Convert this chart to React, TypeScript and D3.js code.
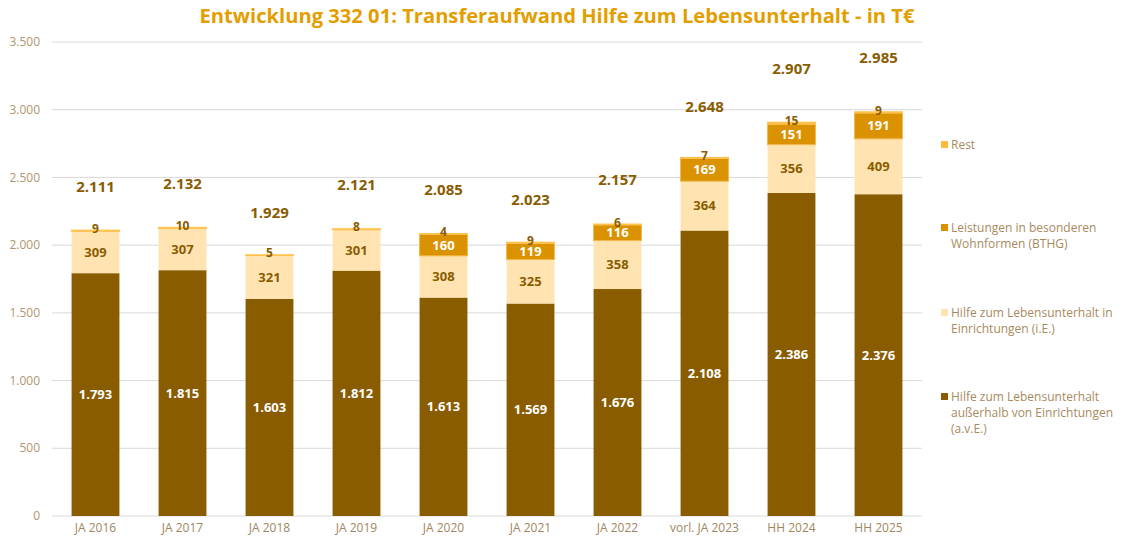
import React from "react";
import * as d3 from "d3";

const categories = ["JA 2016", "JA 2017", "JA 2018", "JA 2019", "JA 2020", "JA 2021", "JA 2022", "vorl. JA 2023", "HH 2024", "HH 2025"];
const aveValues = [1793, 1815, 1603, 1812, 1613, 1569, 1676, 2108, 2386, 2376];
const ieValues = [309, 307, 321, 301, 308, 325, 358, 364, 356, 409];
const bthgValues = [0, 0, 0, 0, 160, 119, 116, 169, 151, 191];
const restValues = [9, 10, 5, 8, 4, 9, 6, 7, 15, 9];
const totals = [2111, 2132, 1929, 2121, 2085, 2023, 2157, 2648, 2907, 2985];
const yTicks = [0, 500, 1000, 1500, 2000, 2500, 3000, 3500];

const W = 1126, H = 537;
const M = { left: 52, right: 922, top: 42, bottom: 516 };
const COLORS = ["#8A5C00", "#FFE4B2", "#DB9200", "#FFBA3C"];
const LABEL_COLORS = ["#FFFFFF", "#8A5C00", "#FFFFFF", "#8A5C00"];
const FONT = "'Open Sans', 'DejaVu Sans', sans-serif";
const fmt = (v: number) => d3.format(",")(v).replace(/,/g, ".");

export default function App() {
  const x = d3.scaleBand<string>().domain(categories).range([M.left, M.right]).paddingInner(0.45).paddingOuter(0.225);
  const y = d3.scaleLinear().domain([0, 3500]).range([M.bottom, M.top]);

  const rows = categories.map((c, i) => ({ cat: c, ave: aveValues[i], ie: ieValues[i], bthg: bthgValues[i], rest: restValues[i] }));
  const keys = ["ave", "ie", "bthg", "rest"];
  const stack = d3.stack<any>().keys(keys)(rows);

  const legendItems = [
    { idx: 3, lines: ["Rest"], y: 145 },
    { idx: 2, lines: ["Leistungen in besonderen", "Wohnformen (BTHG)"], y: 228 },
    { idx: 1, lines: ["Hilfe zum Lebensunterhalt in", "Einrichtungen (i.E.)"], y: 313 },
    { idx: 0, lines: ["Hilfe zum Lebensunterhalt", "außerhalb von Einrichtungen", "(a.v.E.)"], y: 397 },
  ];

  return (
    <svg width={W} height={H} style={{ position: "absolute", left: 0, top: 0, background: "#fff" }} fontFamily={FONT}>
      <text x={557} y={23} textAnchor="middle" fontSize={19} fontWeight={700} fill="#E39E00" textLength={715} lengthAdjust="spacingAndGlyphs">
        Entwicklung 332 01: Transferaufwand Hilfe zum Lebensunterhalt - in T€
      </text>
      {yTicks.map((t) => (
        <g key={t}>
          <line x1={M.left} x2={M.right} y1={y(t)} y2={y(t)} stroke="#D9D9D9" strokeWidth={1} />
          <text x={40} y={y(t)} dy="0.35em" textAnchor="end" fontSize={12} fill="#B0966E">{fmt(t)}</text>
        </g>
      ))}
      {stack.map((layer, si) => (
        <g key={si}>
          {layer.map((d, i) => {
            const v = d[1] - d[0];
            if (v <= 0) return null;
            return (
              <rect key={i} x={x(categories[i])} width={x.bandwidth()} y={y(d[1])} height={y(d[0]) - y(d[1])} fill={COLORS[si]}
                stroke={si === 2 ? "#F2B84A" : si === 3 ? "#FFC24F" : "none"} strokeWidth={si >= 2 ? 1 : 0} />
            );
          })}
        </g>
      ))}
      {stack.map((layer, si) => (
        <g key={"l" + si}>
          {layer.map((d, i) => {
            const v = d[1] - d[0];
            if (v <= 0) return null;
            const cy = y((d[0] + d[1]) / 2) - (si === 3 ? 2 : 0);
            return (
              <text key={i} x={x(categories[i])! + x.bandwidth() / 2} y={cy} dy="0.35em" textAnchor="middle"
                fontSize={si === 3 ? 12 : 13} fontWeight={700} fill={LABEL_COLORS[si]}>
                {fmt(v)}
              </text>
            );
          })}
        </g>
      ))}
      {totals.map((t, i) => (
        <text key={i} x={x(categories[i])! + x.bandwidth() / 2} y={y(t * 1.09) - 18} dy="0.35em" textAnchor="middle"
          fontSize={15} fontWeight={700} fill="#8A5C00">{fmt(t)}</text>
      ))}
      {categories.map((c) => (
        <text key={c} x={x(c)! + x.bandwidth() / 2} y={528} dy="0.35em" textAnchor="middle" fontSize={12} fill="#A0865E">{c}</text>
      ))}
      {legendItems.map((it) => (
        <g key={it.idx}>
          <rect x={941} y={it.y - 4} width={7} height={7} fill={COLORS[it.idx]} />
          {it.lines.map((ln, k) => (
            <text key={k} x={951} y={it.y + k * 16} dy="0.35em" fontSize={12} fill="#A88A5E">{ln}</text>
          ))}
        </g>
      ))}
    </svg>
  );
}
